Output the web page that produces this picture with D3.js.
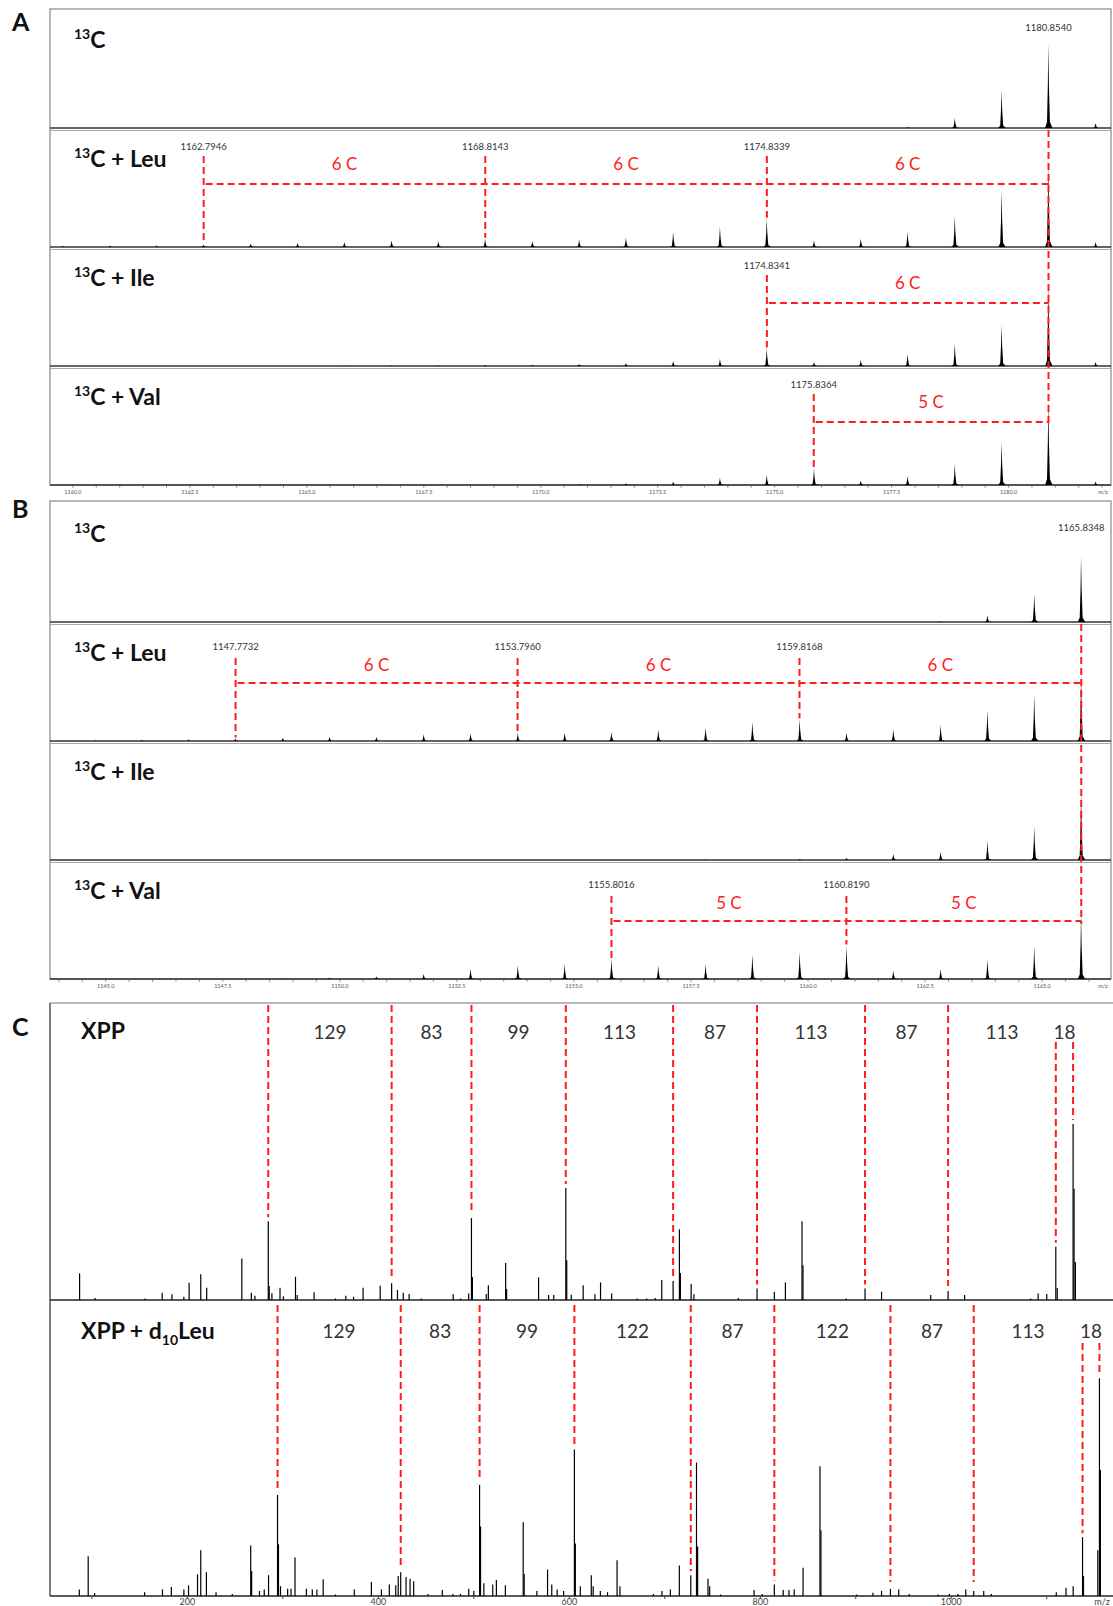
<!DOCTYPE html>
<html>
<head>
<meta charset="utf-8">
<script src="https://cdn.jsdelivr.net/npm/d3@7"></script>
<style>
  body { margin: 0; background: #fff; }
  svg text { font-family: Lato, "Open Sans", sans-serif; }
</style>
</head>
<body>
<div id="fig"></div>
<script>
// ---- panel A: isotope clusters around 1180.85 ----
const aMz = [1159.78, 1160.79, 1161.79, 1162.79, 1163.80, 1164.80, 1165.80, 1166.81, 1167.81, 1168.81, 1169.82, 1170.82,
             1171.82, 1172.83, 1173.83, 1174.83, 1175.84, 1176.84, 1177.84, 1178.85, 1179.85, 1180.85, 1181.86];
const aC13 = [0, 0, 0, 0, 0, 0, 0, 0, 0, 0, 0, 0, 0, 0, 0, 0, 0, 0, 0.8, 8.5, 32, 71, 4];
const aLeu = [0.8, 1.1, 1.4, 1.9, 2.8, 3.3, 4.2, 5.6, 5.0, 6.9, 5.0, 6.2, 7.8, 12.6, 16.8, 23.8, 5.6, 7.0, 12.6, 26, 47, 70, 4.2];
const aIle = [0, 0, 0, 0, 0, 0, 0.3, 0.4, 0.5, 0.8, 1.0, 1.7, 2.6, 4.3, 6.0, 14.7, 3.5, 5.2, 10, 19, 34.5, 70, 3.5];
const aVal = [0, 0, 0, 0, 0, 0, 0, 0, 0, 0, 0, 0.6, 1.5, 3.0, 6.0, 8.5, 13.6, 3.6, 7.6, 17.6, 36, 71, 3];
const aRef = 1180.8540;
const aLeuMarks = [1162.7946, 1168.8143, 1174.8339];
const aIleMarks = [1174.8341];
const aValMarks = [1175.8364];
const aLeuSteps = ["6 C", "6 C", "6 C"];
const aIleSteps = ["6 C"];
const aValSteps = ["5 C"];
const aTicks = [1160, 1162.5, 1165, 1167.5, 1170, 1172.5, 1175, 1177.5, 1180];

// ---- panel B: isotope clusters around 1165.83 ----
const bMz = [1144.77, 1145.77, 1146.77, 1147.77, 1148.78, 1149.78, 1150.78, 1151.79, 1152.79, 1153.80, 1154.80,
             1155.80, 1156.80, 1157.81, 1158.81, 1159.82, 1160.82, 1161.82, 1162.83, 1163.83, 1164.83, 1165.83];
const bC13 = [0, 0, 0, 0, 0, 0, 0, 0, 0, 0, 0, 0, 0, 0, 0, 0, 0, 0, 0.6, 5.6, 23.4, 55];
const bLeu = [0.6, 0.8, 1.4, 2.2, 2.8, 3.4, 3.4, 5.6, 6.2, 6.7, 7.0, 7.6, 9.8, 11.2, 16, 18.2, 7.0, 9.8, 13.4, 26, 39, 56];
const bIle = [0, 0, 0, 0, 0, 0, 0, 0, 0, 0, 0, 0, 0, 0.6, 0, 0.8, 1.7, 5, 7, 16, 28, 58];
const bVal = [0, 0, 0, 0, 0.6, 1.1, 2.3, 4.2, 8.5, 11.3, 12.7, 16.9, 11.3, 12.7, 20.6, 22.5, 28.2, 7.0, 8.5, 16.3, 27.6, 55];
const bRef = 1165.8348;
const bLeuMarks = [1147.7732, 1153.7960, 1159.8168];
const bValMarks = [1155.8016, 1160.8190];
const bLeuSteps = ["6 C", "6 C", "6 C"];
const bValSteps = ["5 C", "5 C"];
const bTicks = [1145, 1147.5, 1150, 1152.5, 1155, 1157.5, 1160, 1162.5, 1165];

// ---- panel C: MS/MS of XPP ----
const xppMz = [87.1, 103.3, 155.6, 173.6, 183.8, 196.3, 201.8, 214.0, 220.2, 257.0, 267.0, 270.7, 284.7, 285.7, 288.5,
  297.0, 300.5, 313.2, 315.0, 332.7, 355.0, 365.9, 374.0, 384.0, 401.9, 413.9, 420.0, 426.1, 432.2, 445.0, 478.4, 486.0,
  494.6, 497.5, 498.5, 513.0, 515.2, 533.3, 534.3, 567.8, 578.3, 583.7, 596.3, 597.3, 602.0, 614.5, 626.8, 632.7, 644.3,
  671.0, 681.0, 690.0, 696.8, 708.7, 715.3, 716.3, 727.6, 730.5, 777.0, 796.6, 814.7, 826.3, 843.7, 844.7, 890.0, 909.7,
  927.0, 978.5, 996.7, 1014.0, 1083.0, 1091.0, 1100.0, 1109.5, 1111.0, 1127.6, 1128.6, 1130.0];
const xppInt = [9.0, 0.7, 0.5, 2.4, 1.9, 1.1, 5.8, 8.7, 4.1, 14.0, 2.4, 1.4, 26.5, 4.7, 2.3,
  4.1, 1.3, 7.8, 1.7, 2.6, 0.5, 1.4, 1.1, 4.1, 4.8, 5.6, 3.4, 2.4, 2.0, 0.5, 1.9, 0.5,
  2.2, 27.6, 7.7, 2.0, 5.0, 12.5, 3.7, 7.6, 1.7, 1.7, 37.7, 13.4, 1.8, 5.0, 1.9, 5.9, 2.2,
  0.5, 0.5, 0.7, 6.7, 6.4, 23.8, 9.1, 5.4, 1.9, 0.7, 3.9, 2.8, 5.9, 26.5, 11.7, 0.5, 3.9,
  2.8, 1.7, 3.0, 1.7, 0.5, 2.2, 2.0, 17.9, 4.0, 59.3, 37.5, 12.8];
const xppLadder = [284.7, 413.9, 497.5, 596.3, 708.7, 796.6, 909.7, 996.7, 1109.5, 1127.6];
const xppGaps = ["129", "83", "99", "113", "87", "113", "87", "113", "18"];

const d10Mz = [86.8, 96.1, 102.8, 155.2, 173.9, 183.2, 196.3, 201.2, 210.6, 214.0, 219.9, 230.0, 247.0, 266.3, 267.3,
  275.5, 280.5, 285.0, 294.4, 295.4, 297.5, 305.0, 308.5, 312.7, 324.6, 330.8, 335.6, 342.2, 355.0, 374.8, 392.7, 403.2,
  411.5, 418.2, 420.8, 423.4, 429.0, 433.2, 437.0, 452.0, 467.0, 478.0, 486.0, 494.6, 500.0, 506.0, 507.0, 510.5, 519.8,
  523.6, 533.0, 551.7, 552.7, 566.0, 577.2, 581.6, 587.3, 594.0, 605.3, 606.3, 611.5, 623.0, 625.0, 632.5, 640.0, 650.0,
  653.0, 688.0, 697.0, 705.8, 715.2, 727.2, 733.2, 734.4, 745.2, 747.0, 758.5, 793.5, 802.0, 814.7, 824.0, 830.0, 835.5,
  844.8, 862.5, 863.5, 901.0, 918.0, 927.0, 936.3, 945.0, 956.0, 986.0, 998.0, 1007.0, 1015.2, 1023.5, 1034.0, 1042.0,
  1110.0, 1120.2, 1127.7, 1137.5, 1138.5, 1153.5, 1155.2, 1156.2];
const d10Int = [2.2, 13.4, 1.0, 1.3, 2.2, 3.0, 2.2, 3.6, 7.3, 15.4, 8.0, 1.3, 0.7, 17.0, 8.4,
  1.7, 2.2, 7.0, 34.0, 17.4, 3.3, 2.4, 2.4, 13.0, 2.4, 2.2, 2.2, 5.6, 0.5, 2.2, 4.7, 2.2,
  3.9, 3.6, 6.7, 8.0, 6.4, 5.8, 5.0, 0.7, 2.0, 0.7, 0.7, 2.4, 1.7, 37.4, 23.4, 4.3, 3.9,
  5.4, 3.6, 24.8, 7.4, 1.7, 8.9, 3.9, 2.2, 1.7, 49.3, 17.7, 3.3, 7.0, 3.3, 1.7, 1.3, 12.0,
  3.3, 0.7, 1.7, 2.2, 10.3, 7.0, 44.9, 16.7, 5.8, 3.3, 0.5, 2.0, 0.7, 3.9, 2.0, 2.0, 2.2,
  9.5, 43.7, 22.1, 0.5, 1.1, 1.7, 2.4, 2.2, 0.7, 0.5, 0.7, 0.7, 2.2, 1.7, 1.7, 0.7,
  1.3, 2.8, 3.3, 19.8, 6.7, 15.4, 73.3, 42.4];
const d10Ladder = [294.4, 423.4, 506.0, 605.3, 727.2, 814.7, 936.3, 1023.5, 1137.5, 1155.2];
const d10Gaps = ["129", "83", "99", "122", "87", "122", "87", "113", "18"];
const cTicks = [200, 400, 600, 800, 1000];

const W = 1113, H = 1606;
const RED = "#ff1c1c";
const svg = d3.select("#fig").append("svg").attr("width", W).attr("height", H);

const fmt4 = d3.format(".4f");
const peakLine = d3.line();

// narrow profile peak, slightly tailing to the right
function peakPath(px, py, base) {
  const h = base - py;
  return peakLine([[px - 3.2, base], [px - 1.3, base - 0.07 * h], [px - 0.5, base - 0.5 * h], [px, py],
                   [px + 0.6, base - 0.5 * h], [px + 1.6, base - 0.07 * h], [px + 4.2, base]]);
}

function label13(g, x, y, rest) {
  const t = g.append("text").attr("x", x).attr("y", y).attr("font-weight", 700).attr("fill", "#111");
  t.append("tspan").attr("font-size", 14).attr("dy", -9).text("13");
  t.append("tspan").attr("font-size", 23).attr("dy", 9).text("C" + rest);
}

function isotopePanel(p) {
  const x = d3.scaleLinear().domain(p.domain).range([50, 1111]);
  const g = svg.append("g");
  const n = p.rows.length;
  const bottom = p.base0 + p.subH * (n - 1);

  g.append("rect")
    .attr("x", 50).attr("y", p.top)
    .attr("width", 1061).attr("height", bottom - p.top)
    .attr("fill", "none").attr("stroke", "#a0a0a0").attr("stroke-width", 1.5);

  p.rows.forEach((r, i) => {
    const base = p.base0 + i * p.subH;
    const y = d3.scaleLinear().domain([0, 100]).range([base, base - p.subH]);

    g.append("line").attr("x1", 50).attr("x2", 1111).attr("y1", base).attr("y2", base)
      .attr("stroke", "#333").attr("stroke-width", 1.6);
    if (i < n - 1) {
      g.append("line").attr("x1", 50).attr("x2", 1111).attr("y1", base + 2.5).attr("y2", base + 2.5)
        .attr("stroke", "#aaa").attr("stroke-width", 1);
    }

    g.selectAll(null)
      .data(d3.zip(p.mz, r.values).filter(d => d[1] > 0))
      .join("path")
      .attr("d", d => peakPath(x(d[0]), y(d[1]), base))
      .attr("fill", "#000");

    label13(g, 74, base - 80, r.name);

    if (i === 0) {
      g.append("text").attr("x", x(p.ref)).attr("y", base - p.off.lab)
        .attr("text-anchor", "middle").attr("font-size", 9.5).attr("fill", "#333")
        .text(fmt4(p.ref));
    }

    if (r.marks.length) {
      r.marks.forEach(m => {
        const k = d3.leastIndex(p.mz, v => Math.abs(v - m));
        const top = y(r.values[k]);
        g.append("text").attr("x", x(m)).attr("y", base - p.off.lab)
          .attr("text-anchor", "middle").attr("font-size", 9.5).attr("fill", "#333")
          .text(fmt4(m));
        g.append("line").attr("x1", x(m)).attr("x2", x(m))
          .attr("y1", base - p.off.vs).attr("y2", Math.min(top - 1, base - 3))
          .attr("stroke", RED).attr("stroke-width", 2).attr("stroke-dasharray", "7,4");
      });
      const hz = base - p.off.hz;
      g.append("line").attr("x1", x(r.marks[0]) + 2).attr("x2", x(p.ref))
        .attr("y1", hz).attr("y2", hz)
        .attr("stroke", RED).attr("stroke-width", 2).attr("stroke-dasharray", "7,4");
      const pts = r.marks.concat([p.ref]);
      r.steps.forEach((s, j) => {
        g.append("text").attr("x", (x(pts[j]) + x(pts[j + 1])) / 2).attr("y", base - p.off.txt)
          .attr("text-anchor", "middle").attr("font-size", 17).attr("fill", RED).text(s);
      });
    }
  });

  // long guide through all rows at the reference peak
  g.append("line").attr("x1", x(p.ref)).attr("x2", x(p.ref))
    .attr("y1", p.base0 + 2).attr("y2", bottom - p.off.hz + 3)
    .attr("stroke", RED).attr("stroke-width", 2).attr("stroke-dasharray", "7,4");

  // m/z axis
  const minor = d3.range(Math.ceil(p.domain[0] * 2) / 2, p.domain[1], 0.5);
  g.selectAll(null).data(minor).join("line")
    .attr("x1", d => x(d)).attr("x2", d => x(d))
    .attr("y1", bottom).attr("y2", bottom + 2.5)
    .attr("stroke", "#555").attr("stroke-width", 0.8);
  g.selectAll(null).data(p.ticks).join("text")
    .attr("x", d => x(d)).attr("y", bottom + 9)
    .attr("text-anchor", "middle").attr("font-size", 5.5).attr("fill", "#555")
    .text(d => d.toFixed(1));
  g.append("text").attr("x", 1103).attr("y", bottom + 9)
    .attr("text-anchor", "middle").attr("font-size", 5.5).attr("fill", "#555").text("m/z");
}

isotopePanel({
  domain: [1159.51, 1182.19], top: 9, base0: 128, subH: 119, mz: aMz, ref: aRef,
  off: { lab: 97, vs: 91, txt: 77, hz: 63 }, ticks: aTicks,
  rows: [
    { name: "", values: aC13, marks: [], steps: [] },
    { name: " + Leu", values: aLeu, marks: aLeuMarks, steps: aLeuSteps },
    { name: " + Ile", values: aIle, marks: aIleMarks, steps: aIleSteps },
    { name: " + Val", values: aVal, marks: aValMarks, steps: aValSteps }
  ]
});

isotopePanel({
  domain: [1143.81, 1166.47], top: 501, base0: 622, subH: 119, mz: bMz, ref: bRef,
  off: { lab: 91, vs: 83, txt: 70, hz: 58 }, ticks: bTicks,
  rows: [
    { name: "", values: bC13, marks: [], steps: [] },
    { name: " + Leu", values: bLeu, marks: bLeuMarks, steps: bLeuSteps },
    { name: " + Ile", values: bIle, marks: [], steps: [] },
    { name: " + Val", values: bVal, marks: bValMarks, steps: bValSteps }
  ]
});

// ---- panel C ----
const xC = d3.scaleLinear().domain([56.1, 1169.4]).range([50, 1113]);
const gC = svg.append("g");
const cTop = 1003, cBottom = 1596;
gC.append("line").attr("x1", 50).attr("x2", W).attr("y1", cTop).attr("y2", cTop)
  .attr("stroke", "#a0a0a0").attr("stroke-width", 1.5);
gC.append("line").attr("x1", 50).attr("x2", 50).attr("y1", cTop).attr("y2", cBottom)
  .attr("stroke", "#555").attr("stroke-width", 1.5);

const cRows = [
  { mz: xppMz, v: xppInt, ladder: xppLadder, gaps: xppGaps, base: 1300, lineTop: 1005, pairTop: 1042, labY: 1039 },
  { mz: d10Mz, v: d10Int, ladder: d10Ladder, gaps: d10Gaps, base: cBottom, lineTop: 1305, pairTop: 1343, labY: 1338 }
];

cRows.forEach(r => {
  const y = d3.scaleLinear().domain([0, 100]).range([r.base, r.base - 297]);
  gC.append("line").attr("x1", 50).attr("x2", W).attr("y1", r.base).attr("y2", r.base)
    .attr("stroke", "#222").attr("stroke-width", 1.6);
  gC.selectAll(null).data(d3.zip(r.mz, r.v)).join("line")
    .attr("x1", d => xC(d[0])).attr("x2", d => xC(d[0]))
    .attr("y1", r.base).attr("y2", d => y(d[1]))
    .attr("stroke", "#000").attr("stroke-width", 1.2);

  r.ladder.forEach((m, j) => {
    const k = d3.leastIndex(r.mz, v => Math.abs(v - m));
    const end = Math.min(y(r.v[k]) - 4, r.base - 14);
    const start = j >= r.ladder.length - 2 ? r.pairTop : r.lineTop;
    gC.append("line").attr("x1", xC(m)).attr("x2", xC(m)).attr("y1", start).attr("y2", end)
      .attr("stroke", RED).attr("stroke-width", 2).attr("stroke-dasharray", "7,4");
  });
  r.gaps.forEach((s, j) => {
    gC.append("text").attr("x", (xC(r.ladder[j]) + xC(r.ladder[j + 1])) / 2).attr("y", r.labY)
      .attr("text-anchor", "middle").attr("font-size", 19).attr("fill", "#333").text(s);
  });
});

gC.append("text").attr("x", 81).attr("y", 1039).attr("font-weight", 700)
  .attr("font-size", 23).attr("fill", "#111").text("XPP");
const d10Lab = gC.append("text").attr("x", 81).attr("y", 1339).attr("font-weight", 700).attr("fill", "#111");
d10Lab.append("tspan").attr("font-size", 23).text("XPP + d");
d10Lab.append("tspan").attr("font-size", 14).attr("dy", 6).text("10");
d10Lab.append("tspan").attr("font-size", 23).attr("dy", -6).text("Leu");

// bottom axis, right at the image edge
gC.selectAll(null).data(d3.range(100, 1200, 100)).join("line")
  .attr("x1", d => xC(d)).attr("x2", d => xC(d))
  .attr("y1", cBottom).attr("y2", cBottom + 3)
  .attr("stroke", "#444").attr("stroke-width", 1);
gC.selectAll(null).data(cTicks).join("text")
  .attr("x", d => xC(d)).attr("y", 1605)
  .attr("text-anchor", "middle").attr("font-size", 9).attr("fill", "#444").text(d => d);
gC.append("text").attr("x", 1102).attr("y", 1605)
  .attr("text-anchor", "middle").attr("font-size", 9).attr("fill", "#444").text("m/z");

// panel letters
[["A", 31], ["B", 518], ["C", 1036]].forEach(([t, yy]) => {
  svg.append("text").attr("x", 12).attr("y", yy).attr("font-weight", 700)
    .attr("font-size", 25).attr("fill", "#111").text(t);
});
</script>
</body>
</html>
